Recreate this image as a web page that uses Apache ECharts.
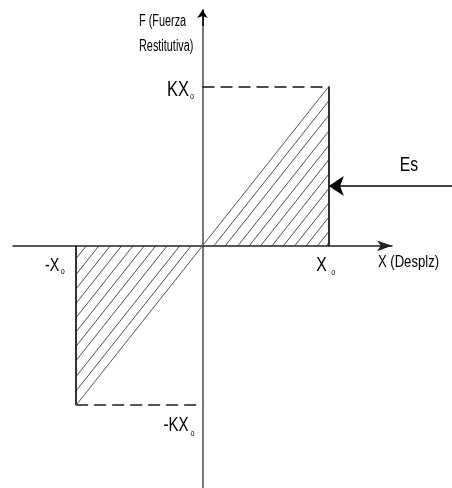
<!DOCTYPE html>
<html>
<head>
<meta charset="utf-8">
<script src="https://cdn.jsdelivr.net/npm/echarts@6/dist/echarts.min.js"></script>
<style>
html, body { margin: 0; padding: 0; background: #fff; }
#chart { width: 452px; height: 488px; }
</style>
</head>
<body>
<div id="chart"></div>
<script>
// units: X0 = 1 on the displacement axis, K*X0 = 1 on the force axis
var xRange = [-1.5, 1.5];
var yRange = [-1.52, 1.48];
var x0 = 1;
var kx0 = 1;
// hatch line offsets (fraction of X0 from the origin)
var hatchRight = [0.09, 0.18, 0.28, 0.37, 0.46, 0.55, 0.64, 0.73, 0.82, 0.91, 0.98];
var hatchLeft = [0.09, 0.18, 0.28, 0.37, 0.46, 0.55, 0.64, 0.73, 0.82, 0.92];
// "Es" pointer arrow (from the right edge to the box)
var esArrow = [[1.975, 0.375], [1.0, 0.375]];
// black head of the force axis
var yArrow = [[0, 1.38], [0, 1.48]];
// text labels: anchor point (data units), main text, subscript
var labelNames = ['fAxis', 'xAxis', 'kx0', 'mkx0', 'x0', 'mx0', 'es'];
var labelAnchors = [[0, 1.48], [1.5, 0], [0, 1], [0, -1], [1, 0], [-1, 0], [1.975, 0.375]];
var labelTexts = ['F (Fuerza\nRestitutiva)', 'X (Desplz)', 'KX', '-KX', 'X', '-X', 'Es'];
var labelSubs = ['', '', 'o', 'o', 'o', 'o', ''];

var FONT = '"Liberation Sans", Arial, sans-serif';
// pixel placement of each label relative to its anchor
var labelStyle = {
    fAxis: { off: [-63.5, 24.5], size: 16, sx: 0.68, align: 'left', lh: 25 },
    xAxis: { off: [16.5, 17], size: 16, sx: 0.82 },
    kx0: { off: [-24.5, 3.5], size: 22, sx: 0.75, sub: [-10.5, 10.5] },
    mkx0: { off: [-26.5, 20], size: 20, sx: 0.75, sub: [-10, 28] },
    x0: { off: [-7.3, 19], size: 21, sx: 0.75, sub: [4.5, 27] },
    mx0: { off: [-24, 20], size: 19, sx: 0.75, sub: [-13.5, 26] },
    es: { off: [-43, -21], size: 21, sx: 0.75 }
};

var solid = { color: '#000', width: 1.6, type: 'solid', opacity: 1 };
var dashed = { color: '#111', width: 1.6, type: [12, 6], opacity: 1 };
var dashedLow = { color: '#555', width: 1.8, type: [12, 6], opacity: 1 };
var hatch = { color: '#222', width: 0.8, type: 'solid', opacity: 1 };
var diag = { color: '#555', width: 1, type: 'solid', opacity: 1 };

var segments = [
    { coords: [[0, kx0], [x0, kx0]], lineStyle: dashed },
    { coords: [[x0, kx0], [x0, 0]], lineStyle: solid },
    { coords: [[-x0, 0], [-x0, -kx0]], lineStyle: solid },
    { coords: [[-x0, -kx0], [0, -kx0]], lineStyle: dashedLow },
    { coords: [[-x0, -kx0], [x0, kx0]], lineStyle: diag }
];
hatchRight.forEach(function (c) {
    segments.push({ coords: [[c * x0, 0], [x0, kx0 * (1 - c)]], lineStyle: hatch });
});
hatchLeft.forEach(function (c) {
    segments.push({ coords: [[-c * x0, 0], [-x0, -kx0 * (1 - c)]], lineStyle: hatch });
});

var chart = echarts.init(document.getElementById('chart'));
chart.setOption({
    animation: false,
    backgroundColor: '#fff',
    grid: { left: 13, right: 60, top: 10, bottom: 0 },
    xAxis: {
        type: 'value',
        min: xRange[0],
        max: xRange[1],
        axisLine: {
            onZero: true,
            symbol: ['none', 'arrow'],
            symbolSize: [8, 15],
            lineStyle: { color: '#222', width: 1.5 }
        },
        axisTick: { show: false },
        axisLabel: { show: false },
        splitLine: { show: false }
    },
    yAxis: {
        type: 'value',
        min: yRange[0],
        max: yRange[1],
        axisLine: {
            onZero: true,
            lineStyle: { color: '#777', width: 2 }
        },
        axisTick: { show: false },
        axisLabel: { show: false },
        splitLine: { show: false }
    },
    series: [
        {
            type: 'lines',
            coordinateSystem: 'cartesian2d',
            clip: false,
            silent: true,
            data: segments
        },
        {
            type: 'lines',
            coordinateSystem: 'cartesian2d',
            clip: false,
            silent: true,
            symbol: ['none', 'arrow'],
            symbolSize: 15,
            lineStyle: { color: '#000', width: 1.5, type: 'solid', opacity: 1 },
            data: [{ coords: esArrow }]
        },
        {
            type: 'lines',
            coordinateSystem: 'cartesian2d',
            clip: false,
            silent: true,
            symbol: ['none', 'arrow'],
            symbolSize: [18, 8],
            lineStyle: { color: '#000', width: 1.5, type: 'solid', opacity: 1 },
            data: [{ coords: yArrow }]
        }
    ]
});

// labels are placed from the axes' own data->pixel mapping
var texts = [];
labelNames.forEach(function (name, i) {
    var st = labelStyle[name];
    var p = chart.convertToPixel({ gridIndex: 0 }, labelAnchors[i]);
    texts.push({
        type: 'text',
        x: p[0] + st.off[0],
        y: p[1] + st.off[1],
        scaleX: st.sx,
        silent: true,
        style: {
            text: labelTexts[i],
            fontFamily: FONT,
            fontSize: st.size,
            lineHeight: st.lh || st.size,
            fill: '#000',
            align: st.align || 'center',
            verticalAlign: 'middle'
        }
    });
    if (labelSubs[i]) {
        texts.push({
            type: 'text',
            x: p[0] + st.sub[0],
            y: p[1] + st.sub[1],
            scaleX: 0.8,
            silent: true,
            style: {
                text: labelSubs[i],
                fontFamily: FONT,
                fontSize: 9,
                fill: '#000',
                align: 'center',
                verticalAlign: 'middle'
            }
        });
    }
});
chart.setOption({ graphic: texts });
</script>
</body>
</html>
